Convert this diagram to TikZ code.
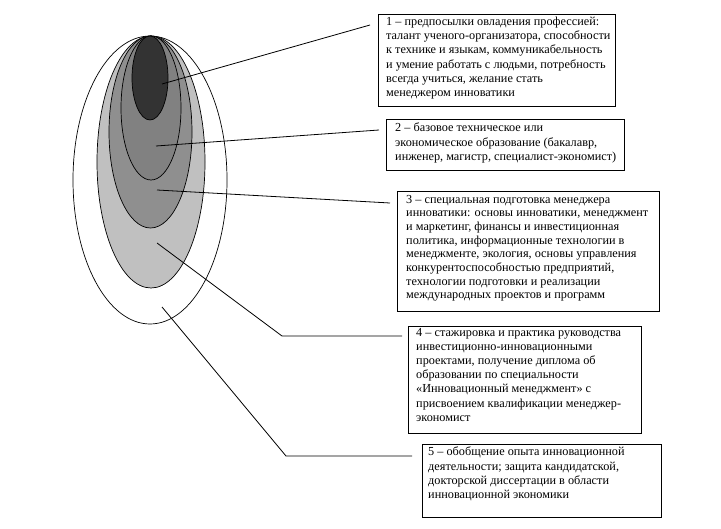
\documentclass[tikz,border=0pt]{standalone}
\usepackage{fontspec}
\setmainfont{Liberation Serif}
\begin{document}
\begin{tikzpicture}[x=1bp,y=-1bp,
  box/.style={draw=black,line width=0.9bp,fill=white,inner sep=0pt,anchor=north west},
  txt/.style={inner sep=0pt,anchor=north west,align=left,font=\fontsize{12.3}{14.2}\selectfont},
  conn/.style={draw=black,line width=0.8bp},
  ell/.style={draw=black,line width=0.7bp}]
\useasboundingbox[fill=white] (0,0) rectangle (721,529);
% nested ellipses
\definecolor{g1}{HTML}{333333}
\definecolor{g2}{HTML}{818181}
\definecolor{g3}{HTML}{8F8F8F}
\definecolor{g4}{HTML}{C0C0C0}
\draw[ell,fill=white] (150,180) ellipse [x radius=77bp, y radius=144bp];
\draw[ell,fill=g4] (151,162) ellipse [x radius=54bp, y radius=126bp];
\draw[ell,fill=g3] (150.5,132) ellipse [x radius=41.5bp, y radius=96bp];
\draw[ell,fill=g2] (151,108) ellipse [x radius=30bp, y radius=72bp];
\draw[ell,fill=g1] (150,78) ellipse [x radius=18bp, y radius=42bp];
% boxes
\node[box,minimum width=237bp,minimum height=92bp] (b1) at (378,14) {};
\node[box,minimum width=238bp,minimum height=51bp] (b2) at (386,119) {};
\node[box,minimum width=262bp,minimum height=120bp] (b3) at (397,191) {};
\node[box,minimum width=233bp,minimum height=107bp] (b4) at (408,326) {};
\node[box,minimum width=239bp,minimum height=73bp] (b5) at (422,444) {};
% texts
\node[txt] (t1) at ([xshift=8bp,yshift=-3bp]b1.north west) {1 – предпосылки овладения профессией:\\талант ученого-организатора, способности\\к технике и языкам, коммуникабельность\\и умение работать с людьми, потребность\\всегда учиться, желание стать\\менеджером инноватики};
\node[txt] (t2) at ([xshift=9bp,yshift=-4bp]b2.north west) {2 – базовое техническое или\\экономическое образование (бакалавр,\\инженер, магистр, специалист-экономист)};
\node[txt,font=\fontsize{12.3}{13.7}\selectfont] (t3) at ([xshift=9bp,yshift=-4bp]b3.north west) {3 – специальная подготовка менеджера\\инноватики: основы инноватики, менеджмент\\и маркетинг, финансы и инвестиционная\\политика, информационные технологии в\\менеджменте, экология, основы управления\\конкурентоспособностью предприятий,\\технологии подготовки и реализации\\международных проектов и программ};
\node[txt] (t4) at ([xshift=8bp,yshift=-2bp]b4.north west) {4 – стажировка и практика руководства\\инвестиционно-инновационными\\проектами, получение диплома об\\образовании по специальности\\«Инновационный менеджмент» с\\присвоением квалификации менеджер-\\экономист};
\node[txt] (t5) at ([xshift=6bp,yshift=-3bp]b5.north west) {5 – обобщение опыта инновационной\\деятельности; защита кандидатской,\\докторской диссертации в области\\инновационной экономики};
% connector points
\coordinate (p1) at (162,84);  \coordinate (q1) at (370,25);
\coordinate (p2) at (156,146); \coordinate (q2) at (379,130);
\coordinate (p3) at (157,190); \coordinate (q3) at (390,203);
\coordinate (p4) at (157,243); \coordinate (k4) at (282,336); \coordinate (q4) at (402,336);
\coordinate (p5) at (162,307); \coordinate (k5) at (286,456); \coordinate (q5) at (412,456);
\draw[conn] (p1) -- (q1);
\draw[conn] (p2) -- (q2);
\draw[conn] (p3) -- (q3);
\draw[conn] (p4) -- (k4) -- (q4);
\draw[conn] (p5) -- (k5) -- (q5);
\end{tikzpicture}
\end{document}
